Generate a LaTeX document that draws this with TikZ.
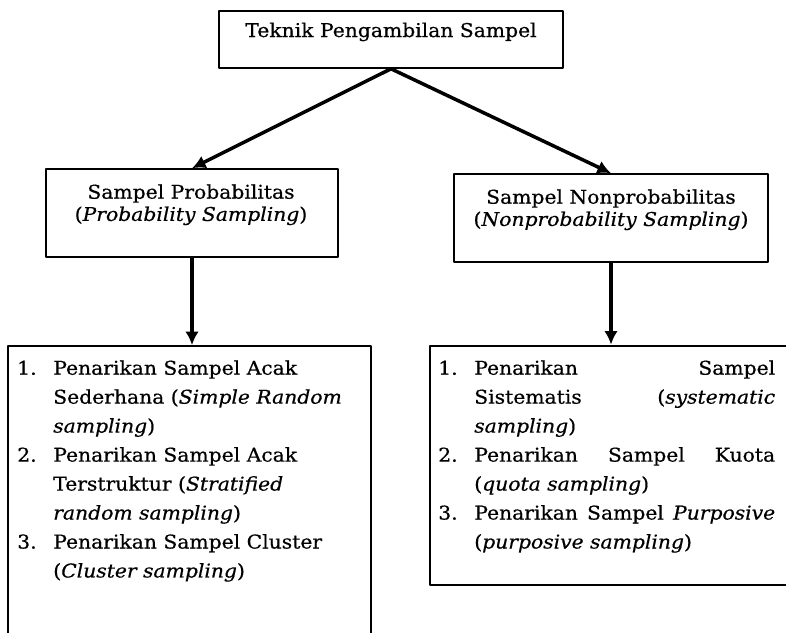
\documentclass[tikz,border=0pt]{standalone}
\usepackage{fontspec}
\setmainfont[FakeStretch=1.07, FakeBold=0.6]{DejaVu Serif}
\usetikzlibrary{arrows.meta}
\usetikzlibrary{positioning}
\tikzset{
	>={Latex[length=3.4mm, width=3.4mm]},
	box/.style={draw=black, line width=1.1pt, inner sep=0pt},
	heavybox/.style={draw=black, line width=1.9pt, inner sep=0pt},
	link/.style={black, line width=2.5pt, ->},
	headtext/.style={font=\fontsize{13.5}{15.8}\selectfont, align=center, inner sep=0pt},
	listtext/.style={font=\fontsize{13.5}{20.6}\selectfont, align=left, inner sep=0pt},
}
\newcommand{\numlbl}[1]{\makebox[0.9cm][l]{#1}}
\newcommand{\numgap}{\hspace*{0.9cm}}
\newcommand{\fullline}[1]{\makebox[7.52cm][s]{#1}}

\begin{document}
\begin{tikzpicture}[x=0.025cm, y=-0.025cm, line cap=round, line join=round]
		
		% ---- Frame (reference pixels) ----
		\useasboundingbox (0,0) rectangle (786,632);
		\clip (0,0) rectangle (786,632);
		
		% ---- Boxes ----
		\node[box, minimum width=8.6cm, minimum height=1.425cm] (top) at (391,39.5) {};
		\node[box, minimum width=7.3cm, minimum height=2.2cm] (lmid) at (192,213) {};
		\node[box, minimum width=7.85cm, minimum height=2.2cm] (rmid) at (611,218) {};
		\node[box, minimum width=9.075cm, minimum height=7.6cm] (llist) at (189.5,498) {};
		\node[heavybox, minimum width=9.5cm, minimum height=5.975cm] (rlist) at (620,465.5) {};
		
		% ---- Headings ----
		\node[headtext, anchor=base] (ttop) at (391,37) {Teknik Pengambilan Sampel};
		\node[headtext, anchor=north] (tlmid) at (191,184)
			{Sampel Probabilitas\\(\textit{Probability Sampling})};
		\node[headtext, anchor=north] (trmid) at (611,189)
			{Sampel Nonprobabilitas\\(\textit{Nonprobability Sampling})};
		
		% ---- Lists ----
		\node[listtext, anchor=north west] (tllist) at (17,360) {%
			\numlbl{1.}Penarikan Sampel Acak\\
			\numgap Sederhana (\textit{Simple Random}\\
			\numgap\textit{sampling})\\
			\numlbl{2.}Penarikan Sampel Acak\\
			\numgap Terstruktur (\textit{Stratified}\\
			\numgap\textit{random sampling})\\
			\numlbl{3.}Penarikan Sampel Cluster\\
			\numgap(\textit{Cluster sampling})};
		\node[listtext, anchor=north west] (trlist) at (438,360) {%
			\numlbl{1.}\fullline{Penarikan Sampel}\\
			\numgap\fullline{Sistematis (\textit{systematic}}\\
			\numgap\textit{sampling})\\
			\numlbl{2.}\fullline{Penarikan Sampel Kuota}\\
			\numgap(\textit{quota sampling})\\
			\numlbl{3.}\fullline{Penarikan Sampel \textit{Purposive}}\\
			\numgap(\textit{purposive sampling})};
		
		% ---- Arrows ----
		\draw[link] (top.south) -- (lmid.north);
		\draw[link] (top.south) -- (rmid.north);
		\draw[link] (lmid.south) -- (lmid.south |- llist.north);
		\draw[link] (rmid.south) -- (rmid.south |- rlist.north);
		
	\end{tikzpicture}
\end{document}
